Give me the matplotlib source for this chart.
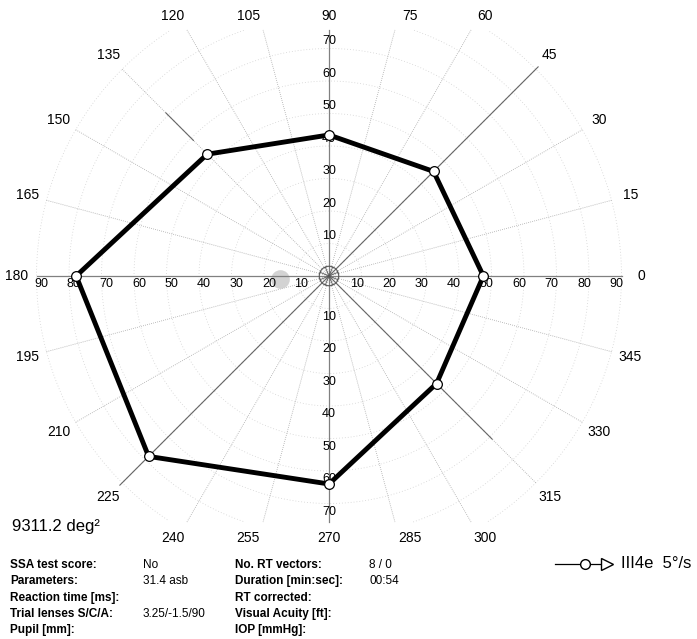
import numpy as np
import matplotlib

matplotlib.use("Agg")
import matplotlib.pyplot as plt

plt.rcParams["font.family"] = ["Liberation Sans", "DejaVu Sans"]

# Isoptera III4e: meridiano (grados) y excentricidad (grados)
meridianos = [0, 45, 90, 135, 180, 225, 270, 315]
excentricidad = [47.5, 45.5, 43.4, 53.0, 77.8, 78.5, 64.0, 46.8]

# vectores cineticos: meridiano, excentricidad de inicio y de fin
vector_meridianos = [45, 135, 225, 315]
vector_inicio = [91, 71, 91, 71]
vector_fin = [0, 59, 0, 0]

angulos_etiqueta = list(range(0, 360, 15))
ticks_h = [10, 20, 30, 40, 50, 60, 70, 80, 90]
ticks_v = [10, 20, 30, 40, 50, 60, 70]

area_texto = "9311.2 deg\u00b2"
leyenda_texto = "III4e  5\u00b0/s"

info_izq = ["SSA test score:", "Parameters:", "Reaction time [ms]:",
            "Trial lenses S/C/A:", "Pupil [mm]:"]
valores_izq = ["No", "31.4 asb", "", "3.25/-1.5/90", ""]
info_der = ["No. RT vectors:", "Duration [min:sec]:", "RT corrected:",
            "Visual Acuity [ft]:", "IOP [mmHg]:"]
valores_der = ["8 / 0", "00:54", "", "", ""]

W, H = 697, 639
CX, CY, ESC = 329, 276, 3.25  # centro en pixeles y pixeles por grado
YMAX = 75.7  # recorte vertical de la reticula


def px(x, y):
    """Pixeles de la imagen -> coordenadas de figura."""
    return x / W, 1 - y / H


fig = plt.figure(figsize=(W / 100, H / 100), dpi=100)
ax = fig.add_axes([0, 0, 1, 1])
ax.set_xlim(-CX / ESC, (W - CX) / ESC)
ax.set_ylim(-(H - CY) / ESC, CY / ESC)
ax.set_aspect("equal")
ax.axis("off")

# circulos concentricos punteados
t = np.linspace(0, 2 * np.pi, 720)
for r in range(10, 100, 10):
    xs, ys = r * np.cos(t), r * np.sin(t)
    ys = np.where(np.abs(ys) <= YMAX, ys, np.nan)
    ax.plot(xs, ys, color="#d2d2d2", lw=0.6, ls=(0, (1, 2.5)), zorder=1)

# meridianos cada 15 grados
for a in angulos_etiqueta:
    if a % 90 == 0:
        continue
    rad = np.deg2rad(a)
    rmax = 90
    if abs(np.sin(rad)) * rmax > YMAX:
        rmax = YMAX / abs(np.sin(rad))
    ax.plot([0, rmax * np.cos(rad)], [0, rmax * np.sin(rad)],
            color="#a8a8a8", lw=0.6, ls=(0, (1, 1.5)), zorder=1)

# ejes principales
ax.plot([-90, 90], [0, 0], color="#808080", lw=0.9, zorder=2)
ax.plot([0, 0], [-YMAX, YMAX], color="#808080", lw=0.9, zorder=2)

# vectores
for a, r0, r1 in zip(vector_meridianos, vector_inicio, vector_fin):
    rad = np.deg2rad(a)
    ax.plot([r1 * np.cos(rad), r0 * np.cos(rad)], [r1 * np.sin(rad), r0 * np.sin(rad)],
            color="#666666", lw=0.8, zorder=2)

# mancha ciega
ax.scatter([-15], [-0.8], s=180, color="#c8c8c8", alpha=0.8, lw=0, zorder=1)

# etiquetas de los ejes
for v in ticks_h:
    ax.text(v - 1.5, -2.4, str(v), ha="center", va="center", fontsize=9, zorder=3)
    ax.text(-v + 1.5, -2.4, str(v), ha="center", va="center", fontsize=9, zorder=3)
for v in ticks_v:
    ax.text(0, v + 2.2, str(v), ha="center", va="center", fontsize=9, zorder=3)
    ax.text(0, -v - 2.5, str(v), ha="center", va="center", fontsize=9, zorder=3)

# etiquetas de meridianos
for a in angulos_etiqueta:
    rad = np.deg2rad(a)
    x = 96 * np.cos(rad)
    y = np.clip(96 * np.sin(rad), -80.6, 80.0)
    ax.text(x, y, str(a), ha="center", va="center", fontsize=10)

# punto de fijacion
ax.add_patch(plt.Circle((0, 0), 3.0, fill=False, color="#555555", lw=0.8, zorder=3))
for a in range(0, 360, 45):
    rad = np.deg2rad(a + 22.5)
    ax.plot([0, 3 * np.cos(rad)], [0, 3 * np.sin(rad)], color="#555555", lw=0.6, zorder=3)

# isoptera
ang = np.deg2rad(meridianos + meridianos[:1])
exc = np.array(excentricidad + excentricidad[:1])
ax.plot(exc * np.cos(ang), exc * np.sin(ang), color="black", lw=3.5,
        solid_joinstyle="miter", zorder=4)
ax.plot(exc[:-1] * np.cos(ang[:-1]), exc[:-1] * np.sin(ang[:-1]), ls="none",
        marker="o", ms=7, mfc="white", mec="black", mew=0.9, zorder=5)

# leyenda
ly = (CY - 564) / ESC
lx = lambda p: (p - CX) / ESC
ax.plot([lx(555), lx(600)], [ly, ly], color="black", lw=0.9, clip_on=False)
ax.plot([lx(585)], [ly], marker="o", ms=7, mfc="white", mec="black", mew=1.0, clip_on=False)
ax.plot([lx(607)], [ly], marker=">", ms=8, mfc="white", mec="black", mew=1.0, clip_on=False)
fig.text(*px(621, 564), leyenda_texto, ha="left", va="center", fontsize=12)

fig.text(*px(12, 527), area_texto, ha="left", va="center", fontsize=12)

# tabla de datos
for i in range(len(info_izq)):
    y = 565 + i * 16.3
    fig.text(*px(10, y), info_izq[i], ha="left", va="center", fontsize=8.5, fontweight="bold")
    fig.text(*px(143, y), valores_izq[i], ha="left", va="center", fontsize=8.5)
    fig.text(*px(235, y), info_der[i], ha="left", va="center", fontsize=8.5, fontweight="bold")
    fig.text(*px(369, y), valores_der[i], ha="left", va="center", fontsize=8.5)

fig.savefig("out.png", dpi=100)
